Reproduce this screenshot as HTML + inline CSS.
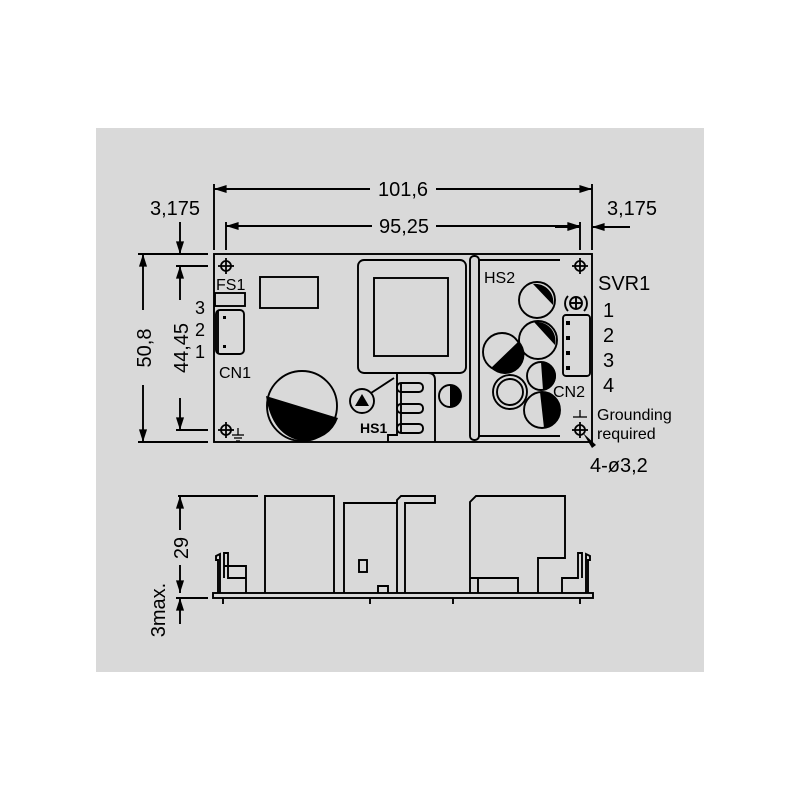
<!DOCTYPE html>
<html><head><style>
html,body{margin:0;padding:0;background:#fff;}
svg{display:block;}
text{font-family:"Liberation Sans",sans-serif;fill:#000;}
</style></head><body>
<svg width="800" height="800" viewBox="0 0 800 800" xmlns="http://www.w3.org/2000/svg">
<defs>
<marker id="a" viewBox="0 0 14 10" refX="14" refY="5" markerWidth="14" markerHeight="9" orient="auto-start-reverse" markerUnits="userSpaceOnUse"><path d="M0,0.5 L14,5 L0,9.5 Z" fill="#000"/></marker>
<g id="hole"><circle r="5" fill="none" stroke="#000" stroke-width="1.8"/><line x1="-8" y1="0" x2="8" y2="0" stroke="#000" stroke-width="1.8"/><line x1="0" y1="-8" x2="0" y2="8" stroke="#000" stroke-width="1.8"/></g>
</defs>
<rect x="96" y="128" width="608" height="544" fill="#d9d9d9"/>
<g stroke="#000" stroke-width="1.9" fill="none">
<line x1="214" y1="184" x2="214" y2="250"/><line x1="592" y1="184" x2="592" y2="250"/>
<line x1="226" y1="222" x2="226" y2="250"/><line x1="580" y1="222" x2="580" y2="250"/>
<line x1="214" y1="189" x2="370" y2="189" marker-start="url(#a)"/>
<line x1="436" y1="189" x2="592" y2="189" marker-end="url(#a)"/>
<line x1="226" y1="226" x2="372" y2="226" marker-start="url(#a)"/>
<line x1="436" y1="226" x2="580" y2="226" marker-end="url(#a)"/>
<line x1="555" y1="227" x2="580" y2="227" marker-end="url(#a)"/>
<line x1="630" y1="227" x2="592" y2="227" marker-end="url(#a)"/>
<line x1="138" y1="254" x2="208" y2="254"/><line x1="176" y1="266" x2="208" y2="266"/>
<line x1="138" y1="442" x2="208" y2="442"/><line x1="176" y1="430" x2="208" y2="430"/>
<line x1="180" y1="222" x2="180" y2="254" marker-end="url(#a)"/>
<line x1="180" y1="300" x2="180" y2="266" marker-end="url(#a)"/>
<line x1="180" y1="398" x2="180" y2="430" marker-end="url(#a)"/>
<line x1="143" y1="310" x2="143" y2="254" marker-end="url(#a)"/>
<line x1="143" y1="385" x2="143" y2="442" marker-end="url(#a)"/>
<rect x="214" y="254" width="378" height="188"/>
<rect x="215" y="293" width="30" height="13"/>
<rect x="260" y="277" width="58" height="31"/>
<rect x="216" y="310" width="28" height="44" rx="4"/>
<line x1="218" y1="310" x2="218" y2="354"/>
<circle cx="302" cy="406" r="35"/>
<rect x="358" y="260" width="108" height="113" rx="6"/>
<rect x="374" y="278" width="74" height="78"/>
<path d="M397,373 V435 H388 V442 M397,373 H428 Q435,373 435,380 V442"/>
<rect x="397" y="383" width="26" height="9" rx="4"/>
<rect x="397" y="404" width="26" height="9" rx="4"/>
<rect x="397" y="424" width="26" height="9" rx="4"/>
<line x1="401" y1="383" x2="401" y2="433"/>
<circle cx="362" cy="401" r="12"/>
<line x1="371" y1="393" x2="394" y2="378"/>
<circle cx="450" cy="396" r="11"/>
<rect x="470" y="256" width="9" height="184" rx="4"/>
<line x1="479" y1="260" x2="560" y2="260"/><line x1="479" y1="436" x2="560" y2="436"/>
<circle cx="537" cy="300" r="18"/><circle cx="538" cy="340" r="19"/>
<circle cx="502" cy="352" r="19"/><circle cx="541" cy="376" r="14"/>
<circle cx="510" cy="392" r="17"/><circle cx="510" cy="392" r="13"/>
<circle cx="542" cy="410" r="18"/>
<circle cx="576" cy="303" r="6"/><line x1="570" y1="303" x2="582" y2="303"/><line x1="576" y1="297" x2="576" y2="309"/>
<path d="M568,296 A11,11 0 0 0 568,311 M584,296 A11,11 0 0 1 584,311"/>
<rect x="563" y="315" width="27" height="61" rx="3"/>
<line x1="178" y1="496" x2="258" y2="496"/>
<line x1="176" y1="598" x2="208" y2="598"/>
<line x1="180" y1="530" x2="180" y2="496" marker-end="url(#a)"/>
<line x1="180" y1="565" x2="180" y2="593" marker-end="url(#a)"/>
<line x1="180" y1="624" x2="180" y2="598" marker-end="url(#a)"/>
<rect x="213" y="593" width="380" height="5"/>
<polyline points="265,593 265,496 334,496 334,593"/>
<polyline points="344,593 344,503 397,503 397,593"/>
<path d="M378,593 V586 H388 V593"/>
<path d="M397,503 V500 L401,496 H435 V503 H405 V593"/>
<rect x="359" y="560" width="8" height="12"/>
<path d="M470,593 V502 L476,496 H565 V558 H538 V593 M470,578 H518 V593 M478,578 V593"/>
<path d="M218,593 V560 H216 V556 L220,554 V593 M224,578 V553 H228 V578 H246 V593 M224,566 H246 V593"/>
<path d="M588,593 V560 H590 V556 L586,554 V593 M582,578 V553 H578 V578 H562 V593"/>
<line x1="223" y1="598" x2="223" y2="604"/><line x1="370" y1="598" x2="370" y2="604"/>
<line x1="453" y1="598" x2="453" y2="604"/><line x1="580" y1="598" x2="580" y2="604"/>
</g>
<g fill="#000">
<path d="M266,396 L338,418 Q330,440 302,441 Q272,436 266,396Z"/>
<path d="M450,385 A11,11 0 0 1 450,407Z"/>
<path d="M533,284 L553,305 A18,18 0 0 0 533,284Z"/>
<path d="M534,322 L555,345 A19,19 0 0 0 534,322Z"/>
<path d="M491,368 L519,341 A19,19 0 0 1 491,368Z"/>
<path d="M541,362 L543,390 A14,14 0 0 0 541,362Z"/>
<path d="M540,392 L544,428 A18,18 0 0 0 560,410 A18,18 0 0 0 540,392Z"/>
<rect x="566" y="321" width="4" height="4"/><rect x="566" y="336" width="4" height="4"/>
<rect x="566" y="351" width="4" height="4"/><rect x="566" y="366" width="4" height="4"/>
<rect x="223" y="316" width="3" height="3"/><rect x="223" y="345" width="3" height="3"/>
<path d="M362,394 L369,406 H355Z"/>
<path d="M583,433 L596,445 L592,448 Z"/>
</g>
<g stroke="#000" stroke-width="1.3">
<line x1="232" y1="435" x2="244" y2="435"/><line x1="234" y1="438" x2="242" y2="438"/><line x1="236" y1="441" x2="240" y2="441"/><line x1="238" y1="428" x2="238" y2="435"/>
<line x1="573" y1="417" x2="587" y2="417"/><line x1="580" y1="410" x2="580" y2="417"/>
</g>
<use href="#hole" x="226" y="266"/><use href="#hole" x="226" y="430"/>
<use href="#hole" x="580" y="266"/><use href="#hole" x="580" y="430"/>
<g font-size="20">
<text x="403" y="196" text-anchor="middle">101,6</text>
<text x="404" y="233" text-anchor="middle">95,25</text>
<text x="175" y="215" text-anchor="middle">3,175</text>
<text x="632" y="215" text-anchor="middle">3,175</text>
<text transform="translate(151,348) rotate(-90)" text-anchor="middle">50,8</text>
<text transform="translate(188,348) rotate(-90)" text-anchor="middle">44,45</text>
<text transform="translate(188,548) rotate(-90)" text-anchor="middle">29</text>
<text transform="translate(165,610) rotate(-90)" text-anchor="middle">3max.</text>
<text x="598" y="290">SVR1</text>
<text x="603" y="317">1</text><text x="603" y="342">2</text><text x="603" y="367">3</text><text x="603" y="392">4</text>
<text x="590" y="472">4-ø3,2</text>
</g>
<g font-size="18">
<text x="195" y="314">3</text><text x="195" y="336">2</text><text x="195" y="358">1</text>
</g>
<g font-size="16">
<text x="216" y="290">FS1</text>
<text x="219" y="378">CN1</text>
<text x="484" y="283">HS2</text>
<text x="553" y="397">CN2</text>
<text x="597" y="420">Grounding</text>
<text x="597" y="439">required</text>
<text x="360" y="433" font-size="14" font-weight="bold">HS1</text>
</g>
</svg>
</body></html>
